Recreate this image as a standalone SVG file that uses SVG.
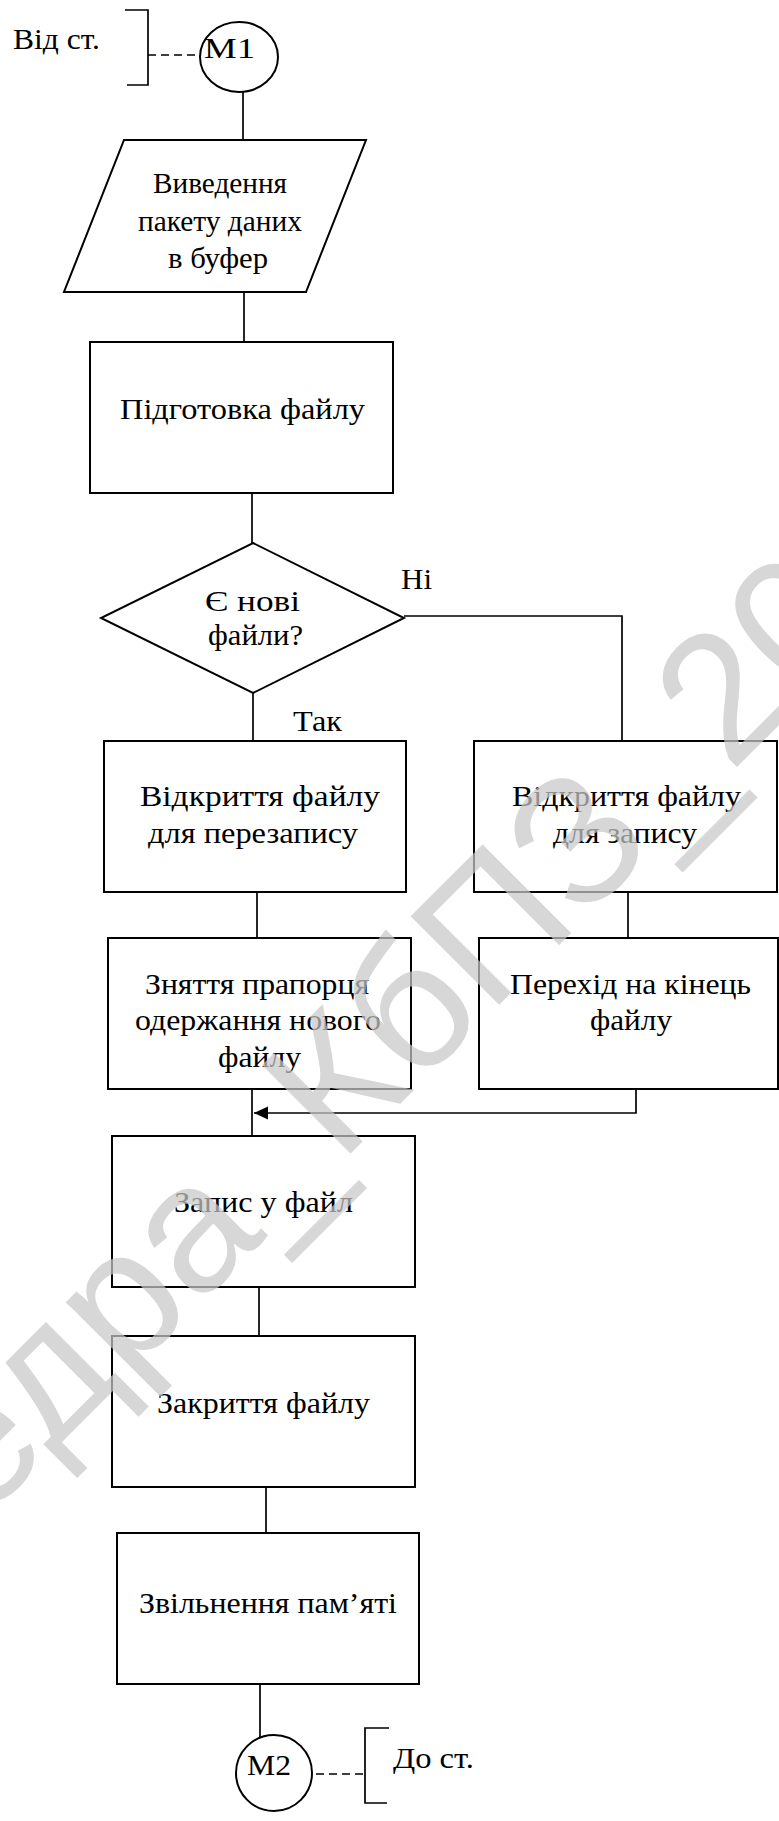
<svg xmlns="http://www.w3.org/2000/svg" width="779" height="1821" viewBox="0 0 779 1821">
  <style>
    .shape { fill: #ffffff; stroke: #000000; stroke-width: 2; }
    .line { fill: none; stroke: #000000; stroke-width: 1.7; }
    .dash { fill: none; stroke: #000000; stroke-width: 1.7; stroke-dasharray: 8 5; }
    .t { font-family: "Liberation Serif", "Times New Roman", serif; font-size: 30px; fill: #000000; }
    .wm { font-family: "Liberation Sans", Arial, sans-serif; font-size: 182px; fill: #c8c8c8; opacity: 0.72; }
  </style>
  <defs>
    <marker id="arrow" markerWidth="14" markerHeight="14" refX="14" refY="7" orient="auto" markerUnits="userSpaceOnUse">
      <path d="M0,0.5 L14,7 L0,13.5 Z" fill="#000000"/>
    </marker>
  </defs>
  <rect x="0" y="0" width="779" height="1821" fill="#ffffff"/>

  <!-- connectors -->
  <g id="connectors">
    <line class="line" x1="243" y1="92" x2="243" y2="140"/>
    <line class="line" x1="244" y1="292" x2="244" y2="342"/>
    <line class="line" x1="252" y1="493" x2="252" y2="543"/>
    <line class="line" x1="253" y1="693" x2="253" y2="741"/>
    <polyline class="line" points="404,616 622,616 622,741"/>
    <line class="line" x1="257" y1="892" x2="257" y2="938"/>
    <line class="line" x1="628" y1="892" x2="628" y2="938"/>
    <line class="line" x1="252" y1="1089" x2="252" y2="1136"/>
    <polyline class="line" points="636,1089 636,1113 254,1113" marker-end="url(#arrow)"/>
    <line class="line" x1="259" y1="1287" x2="259" y2="1336"/>
    <line class="line" x1="266" y1="1487" x2="266" y2="1533"/>
    <line class="line" x1="260" y1="1684" x2="260" y2="1737"/>
  </g>

  <!-- off-page connector: start -->
  <g id="ref-start">
    <path class="line" d="M125,10 H148 V85 H127"/>
    <line class="dash" x1="148" y1="55" x2="200" y2="55"/>
    <text class="t" x="13" y="49" textLength="87" lengthAdjust="spacingAndGlyphs">Від ст.</text>
  </g>
  <g id="m1">
    <ellipse class="shape" cx="239" cy="57" rx="39" ry="35"/>
    <text class="t" x="204" y="58" font-size="34" textLength="51" lengthAdjust="spacingAndGlyphs">М1</text>
  </g>

  <g id="input-buffer">
    <polygon class="shape" points="124,140 366,140 306,292 64,292"/>
    <text class="t" x="153" y="193" font-size="28" textLength="134" lengthAdjust="spacingAndGlyphs">Виведення</text>
    <text class="t" x="138" y="231" font-size="28" textLength="164" lengthAdjust="spacingAndGlyphs">пакету даних</text>
    <text class="t" x="168" y="268" font-size="28" textLength="100" lengthAdjust="spacingAndGlyphs">в буфер</text>
  </g>

  <g id="prepare-file">
    <rect class="shape" x="90" y="342" width="303" height="151"/>
    <text class="t" x="120" y="419" font-size="32" textLength="245" lengthAdjust="spacingAndGlyphs">Підготовка файлу</text>
  </g>

  <g id="new-files">
    <polygon class="shape" points="253,543 404,618 253,693 101,618"/>
    <text class="t" x="205" y="611" textLength="95" lengthAdjust="spacingAndGlyphs">Є нові</text>
    <text class="t" x="208" y="645" textLength="95" lengthAdjust="spacingAndGlyphs">файли?</text>
  </g>
  <g id="labels">
    <text class="t" x="401" y="589" font-size="32" textLength="31" lengthAdjust="spacingAndGlyphs">Ні</text>
    <text class="t" x="293" y="731" textLength="49" lengthAdjust="spacingAndGlyphs">Так</text>
  </g>

  <g id="open-rewrite">
    <rect class="shape" x="104" y="741" width="302" height="151"/>
    <text class="t" x="140" y="806" font-size="32" textLength="240" lengthAdjust="spacingAndGlyphs">Відкриття файлу</text>
    <text class="t" x="148" y="843" font-size="32" textLength="210" lengthAdjust="spacingAndGlyphs">для перезапису</text>
  </g>

  <g id="open-append">
    <rect class="shape" x="474" y="741" width="303" height="151"/>
    <text class="t" x="512" y="806" font-size="32" textLength="229" lengthAdjust="spacingAndGlyphs">Відкриття файлу</text>
    <text class="t" x="553" y="843" font-size="32" textLength="144" lengthAdjust="spacingAndGlyphs">для запису</text>
  </g>

  <g id="clear-flag">
    <rect class="shape" x="108" y="938" width="303" height="151"/>
    <text class="t" x="145" y="994" textLength="224" lengthAdjust="spacingAndGlyphs">Зняття прапорця</text>
    <text class="t" x="135" y="1030" textLength="246" lengthAdjust="spacingAndGlyphs">одержання нового</text>
    <text class="t" x="218" y="1067" textLength="83" lengthAdjust="spacingAndGlyphs">файлу</text>
  </g>

  <g id="seek-end">
    <rect class="shape" x="479" y="938" width="299" height="151"/>
    <text class="t" x="510" y="994" textLength="241" lengthAdjust="spacingAndGlyphs">Перехід на кінець</text>
    <text class="t" x="590" y="1030" textLength="82" lengthAdjust="spacingAndGlyphs">файлу</text>
  </g>

  <g id="write-file">
    <rect class="shape" x="112" y="1136" width="303" height="151"/>
    <text class="t" x="174" y="1212" textLength="179" lengthAdjust="spacingAndGlyphs">Запис у файл</text>
  </g>

  <g id="close-file">
    <rect class="shape" x="112" y="1336" width="303" height="151"/>
    <text class="t" x="157" y="1413" textLength="213" lengthAdjust="spacingAndGlyphs">Закриття файлу</text>
  </g>

  <g id="free-memory">
    <rect class="shape" x="117" y="1533" width="302" height="151"/>
    <text class="t" x="139" y="1613" textLength="258" lengthAdjust="spacingAndGlyphs">Звільнення пам’яті</text>
  </g>

  <g id="m2">
    <circle class="shape" cx="274" cy="1773" r="38"/>
    <text class="t" x="247" y="1775" textLength="44" lengthAdjust="spacingAndGlyphs">М2</text>
  </g>
  <!-- off-page connector: end -->
  <g id="ref-end">
    <line class="dash" x1="316" y1="1774" x2="363" y2="1774"/>
    <path class="line" d="M389,1728 H365 V1803 H387"/>
    <text class="t" x="393" y="1768" font-size="32" textLength="81" lengthAdjust="spacingAndGlyphs">До ст.</text>
  </g>

  <!-- page watermark -->
  <g id="watermark">
    <text class="wm" transform="translate(-271,1775) rotate(-45)">Кафедра_КбПЗ_20</text>
  </g>
</svg>
